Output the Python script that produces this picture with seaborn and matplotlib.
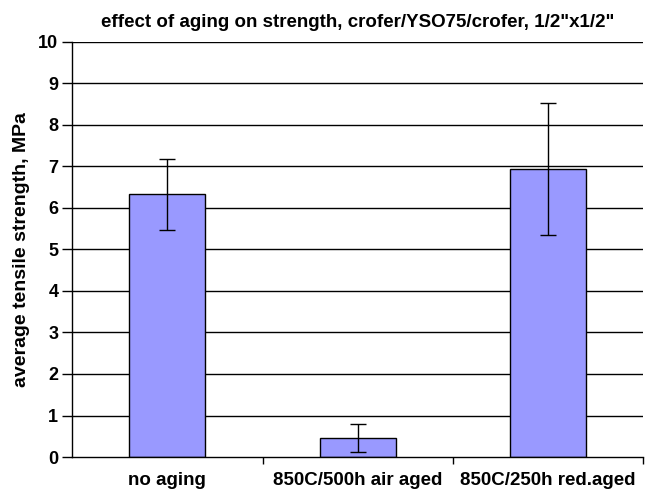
import matplotlib
matplotlib.use("Agg")
import matplotlib.pyplot as plt
import seaborn as sns
import pandas as pd
import numpy as np

categories = ["no aging", "850C/500h air aged", "850C/250h red.aged"]
strength = [6.33, 0.45, 6.95]
err_low = [0.86, 0.33, 1.60]
err_high = [0.85, 0.34, 1.58]
yticks = list(range(0, 11))

sns.set_theme(style="white")
plt.rcParams['font.family'] = ['Liberation Sans', 'DejaVu Sans']
plt.rcParams['text.color'] = 'black'
plt.rcParams['axes.labelcolor'] = 'black'
plt.rcParams['xtick.color'] = 'black'
plt.rcParams['ytick.color'] = 'black'

df = pd.DataFrame({"cat": categories, "val": strength})

fig = plt.figure(figsize=(6.45, 4.93), dpi=100)
ax = fig.add_axes([0.112, 0.073, 0.885, 0.842])

for y in yticks[1:]:
    ax.axhline(y, color="black", lw=1.0, zorder=0)

sns.barplot(data=df, x="cat", y="val", color="#9999FF", saturation=1,
            edgecolor="black", linewidth=1.0, width=0.4, ax=ax, zorder=2)
x = np.arange(len(categories))
ax.errorbar(x, strength, yerr=[err_low, err_high], fmt="none", ecolor="black",
            elinewidth=1.0, capsize=6, capthick=1.0, zorder=3)

ax.set_ylim(0, 10)
ax.set_xlim(-0.5, 2.5)
ax.set_yticks(yticks)
ax.set_yticklabels([str(t) for t in yticks], fontsize=13, fontweight="bold")
ax.set_xticks(x)
ax.set_xticklabels(categories, fontsize=13.5, fontweight="bold")
ax.set_xticks([0.5, 1.5, 2.5], minor=True)
ax.tick_params(axis="y", left=True, direction="out", length=7, width=1, color="black", pad=3)
ax.tick_params(axis="x", which="major", bottom=False, length=0, pad=11)
ax.tick_params(axis="x", which="minor", bottom=True, direction="out", length=5, width=1, color="black")
ax.set_xlabel("")
ax.set_ylabel("average tensile strength, MPa", fontsize=14, fontweight="bold", labelpad=6)
ax.set_title("effect of aging on strength, crofer/YSO75/crofer, 1/2\"x1/2\"",
             fontsize=13.5, fontweight="bold", pad=11)
for s in ["top", "right"]:
    ax.spines[s].set_visible(False)
for s in ["left", "bottom"]:
    ax.spines[s].set_color("black")
    ax.spines[s].set_linewidth(1.0)

fig.savefig("out.png", dpi=100)
